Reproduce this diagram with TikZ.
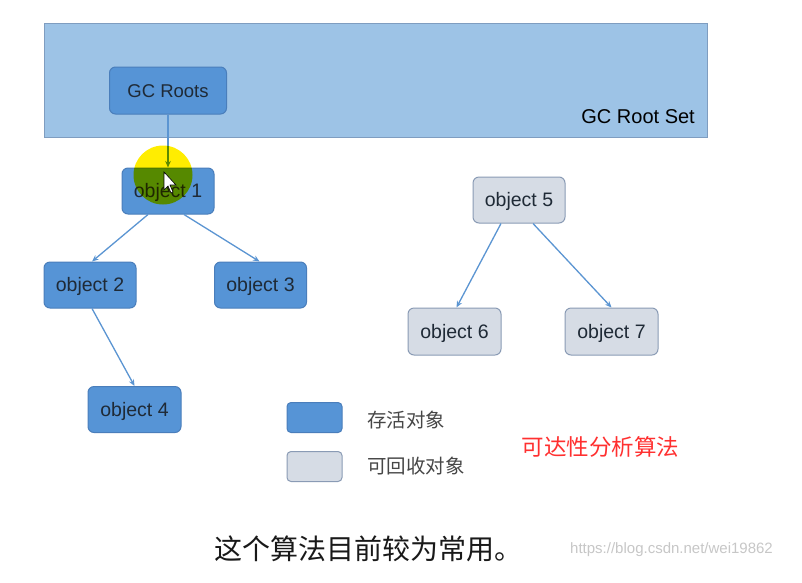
\documentclass[tikz,border=0pt]{standalone}
\usepackage{fontspec}
\setmainfont{Liberation Sans}
\newfontfamily\cjk{Noto Sans CJK SC}
\usetikzlibrary{arrows.meta}
\definecolor{setfill}{HTML}{9DC3E6}
\definecolor{setdraw}{HTML}{7F9DC0}
\definecolor{livefill}{HTML}{5694D6}
\definecolor{livedraw}{HTML}{4A7EBB}
\definecolor{deadfill}{HTML}{D6DCE5}
\definecolor{deaddraw}{HTML}{8A9BB5}
\definecolor{edge}{HTML}{5B95D2}
\definecolor{txt}{HTML}{1F2A36}
\definecolor{redtxt}{HTML}{FF3030}
\tikzset{
  objbox/.style={rounded corners=6pt, minimum width=92pt, minimum height=46pt, inner sep=0pt,
    font=\fontsize{19.5}{22}\selectfont, text=txt, line width=1pt, text height=13pt, text depth=0pt},
  live/.style={objbox, fill=livefill, draw=livedraw},
  dead/.style={objbox, fill=deadfill, draw=deaddraw},
  link/.style={draw=edge, line width=1.3pt, -{Stealth[length=6.5pt,width=5.5pt]}},
  legtxt/.style={font=\cjk\fontsize{19.5}{22}\selectfont, text=black!72, anchor=west, inner sep=0pt}
}
\begin{document}
\begin{tikzpicture}[x=1pt,y=-1pt]
\useasboundingbox[fill=white] (0,0) rectangle (802,582);
% root set
\node[draw=setdraw, fill=setfill, line width=1pt, minimum width=663pt, minimum height=114pt, inner sep=0pt] (rootset) at (375.5,80) {};
\node[anchor=east, inner sep=0pt, font=\fontsize{20}{22}\selectfont, text=black] (rootsetlbl) at (695,117) {GC Root Set};
\node[live, minimum width=117pt, minimum height=47pt, font=\fontsize{18.5}{22}\selectfont] (gcroots) at (168,90.5) {GC Roots};
% live objects
\node[live] (obj1) at (168,191) {object 1};
\node[live] (obj2) at (90,285) {object 2};
\node[live] (obj3) at (260.5,285) {object 3};
\node[live, minimum width=93pt] (obj4) at (134.5,409.5) {object 4};
% dead objects
\node[dead] (obj5) at (519,200) {object 5};
\node[dead, minimum width=93pt, minimum height=47pt] (obj6) at (454.5,331.5) {object 6};
\node[dead, minimum width=93pt, minimum height=47pt] (obj7) at (611.5,331.5) {object 7};
% connectors
\draw[link] (gcroots.south) -- (obj1.north);
\draw[link] ([xshift=-20pt]obj1.south) -- ([xshift=2pt]obj2.north);
\draw[link] ([xshift=16pt]obj1.south) -- ([xshift=-1pt]obj3.north);
\draw[link] ([xshift=2pt]obj2.south) -- (obj4.north);
\draw[link] ([xshift=-18pt]obj5.south) -- ([xshift=2pt]obj6.north);
\draw[link] ([xshift=14pt]obj5.south) -- (obj7.north);
% cursor highlight
\fill[yellow!95!orange, blend mode=multiply] (163,175) circle (29.5pt);
\draw[black, fill=white, line width=0.6pt] (164,172) -- (164,190) -- (168,186) -- (171,193) -- (173,192) -- (170,185) -- (176,185) -- cycle;
% legend
\node[live, minimum width=55pt, minimum height=30pt, rounded corners=4pt] (leglive) at (314.5,417.5) {};
\node[dead, minimum width=55pt, minimum height=30pt, rounded corners=4pt] (legdead) at (314.5,466.5) {};
\node[legtxt] (leglivetxt) at (367,420) {存活对象};
\node[legtxt] (legdeadtxt) at (367,466) {可回收对象};
\node[font=\cjk\fontsize{22.5}{26}\selectfont, text=redtxt, inner sep=0pt] (title) at (600.5,447) {可达性分析算法};
% bottom caption
\node[font=\cjk\fontsize{28}{32}\selectfont, text=black!90, anchor=west, inner sep=0pt] (caption) at (214,549) {这个算法目前较为常用。};
\node[font=\fontsize{15}{18}\selectfont, text=black!22, anchor=west, inner sep=0pt] (wm) at (570,550) {https://blog.csdn.net/wei19862};
\end{tikzpicture}
\end{document}
